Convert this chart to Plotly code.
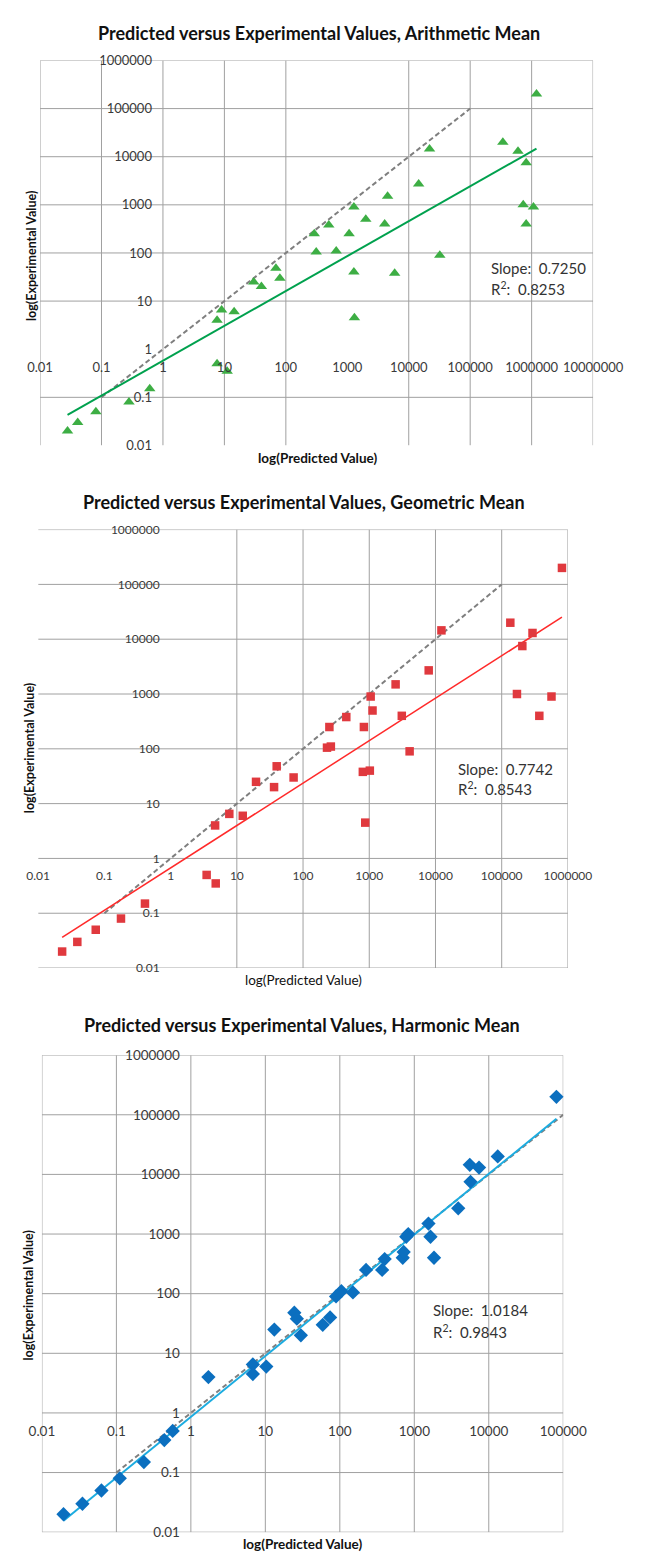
import plotly.graph_objects as go
import numpy as np

W, H = 653, 1559

# ---------------- data ----------------
arith_pred = [0.028, 0.041, 0.081, 0.28, 0.61, 7.6, 11.1, 7.6, 9.0, 14.4, 30, 40, 69, 80,
              290, 312, 500, 660, 1070, 1280, 1280, 1306, 2000, 4060, 4530, 5900, 14500,
              21800, 32000, 340000, 600000, 730000, 815000, 815000, 1070000, 1200000]
arith_exp = [0.02, 0.03, 0.05, 0.08, 0.15, 0.5, 0.35, 4, 6.5, 6, 25, 20, 48, 30,
             250, 105, 380, 110, 250, 900, 40, 4.5, 500, 400, 1500, 38, 2700,
             14500, 90, 20000, 13000, 1000, 7500, 400, 900, 200000]

geo_pred = [0.023, 0.039, 0.074, 0.178, 0.41, 3.5, 4.8, 4.7, 7.7, 12.3, 19.5, 36.5, 40, 72,
            230, 263, 250, 830, 450, 1050, 1120, 3100, 800, 1020, 870, 4070, 2500, 7900,
            12300, 135000, 292000, 205000, 170000, 565000, 370000, 813000]
geo_exp = [0.02, 0.03, 0.05, 0.08, 0.15, 0.5, 0.35, 4, 6.5, 6, 25, 20, 48, 30,
           105, 110, 250, 250, 380, 900, 500, 400, 38, 40, 4.5, 90, 1500, 2700,
           14500, 20000, 13000, 7500, 1000, 900, 400, 200000]

harm_pred = [0.0195, 0.035, 0.063, 0.111, 0.234, 0.57, 0.44, 1.72, 6.8, 10.3, 6.8, 13.2, 30,
             24.5, 59, 26.5, 74, 89, 105, 150, 225, 370, 400, 700, 720, 830, 780, 1650,
             1840, 1550, 3890, 5560, 7400, 5690, 13200, 81000]
harm_exp = [0.02, 0.03, 0.05, 0.08, 0.15, 0.5, 0.35, 4, 6.5, 6, 4.5, 25, 20, 48, 30, 38,
            40, 90, 110, 105, 250, 250, 380, 400, 500, 1000, 900, 900, 400, 1500, 2700,
            14500, 13000, 7500, 20000, 200000]

titles = ["Predicted versus Experimental Values, Arithmetic Mean",
          "Predicted versus Experimental Values, Geometric Mean",
          "Predicted versus Experimental Values, Harmonic Mean"]
slopes = [0.7250, 0.7742, 1.0184]
r2_values = [0.8253, 0.8543, 0.9843]
log_intercepts = [-0.24, -0.174, -0.065]
identity_span = [0.1, 100000]

x_tick_vals = [[0.01, 0.1, 1, 10, 100, 1000, 10000, 100000, 1000000, 10000000],
               [0.01, 0.1, 1, 10, 100, 1000, 10000, 100000, 1000000],
               [0.01, 0.1, 1, 10, 100, 1000, 10000, 100000]]
x_tick_text = [["0.01", "0.1", "1", "10", "100", "1000", "10000", "100000", "1000000", "10000000"],
               ["0.01", "0.1", "1", "10", "100", "1000", "10000", "100000", "1000000"],
               ["0.01", "0.1", "1", "10", "100", "1000", "10000", "100000"]]
y_tick_vals = [0.01, 0.1, 1, 10, 100, 1000, 10000, 100000, 1000000]
y_tick_text = ["0.01", "0.1", "1", "10", "100", "1000", "10000", "100000", "1000000"]

grid_x = [[0.01, 0.1, 1, 10, 100, 10000, 100000, 1000000, 10000000],
          [10, 100, 1000, 10000, 100000, 1000000],
          [0.01, 0.1, 1, 10, 100, 1000, 10000, 100000]]
grid_y = [[0.1, 10, 100, 1000, 10000, 100000, 1000000],
          [0.01, 0.1, 1, 10, 100, 1000, 10000, 100000, 1000000],
          [0.01, 0.1, 1, 10, 100, 1000, 10000, 100000, 1000000]]

# ---------------- style / layout ----------------
boxes = [dict(x0=29, x1=622, y0=53, y1=442, xr=[-2, 7], yr=[-2, 6]),
         dict(x0=27, x1=595, y0=527, y1=970, xr=[-2, 6], yr=[-2, 6]),
         dict(x0=31, x1=590, y0=1058, y1=1540, xr=[-2, 5], yr=[-2, 6])]
title_pos = [(328, 25), (312, 499), (310, 1028)]
xtitle_pos = [(326, 455), (311, 982), (310, 1552)]
xtitle_bold = [True, False, True]
ytitle_pos = [(20, 251), (17, 748), (17, 1301)]
slope_pos = [(510, 263, 283), (475, 769, 789), (448, 1316, 1337)]
tick_sizes = [13, 12, 13.5]

marker_symbols = ["triangle-up", "square", "diamond"]
marker_colors = ["#3DAE44", "#E0393E", "#0B6FBF"]
marker_sizes = [10, 8.5, 11]
trend_colors = ["#00A14E", "#FF2A2A", "#1CACE0"]
trend_widths = [2, 1.5, 2]

FONT = "Lato"
GRID = "#A0A0A0"

pairs = [(arith_pred, arith_exp), (geo_pred, geo_exp), (harm_pred, harm_exp)]

fig = go.Figure()
annotations = []
layout = {}


def px_x(p):
    return p / W


def px_y(p):
    return 1 - p / H


for i in range(3):
    b = boxes[i]
    xa = "x" if i == 0 else f"x{i+1}"
    ya = "y" if i == 0 else f"y{i+1}"
    xkey = "xaxis" if i == 0 else f"xaxis{i+1}"
    ykey = "yaxis" if i == 0 else f"yaxis{i+1}"
    xd = [px_x(b["x0"]), px_x(b["x1"])]
    yd = [px_y(b["y1"]), px_y(b["y0"])]
    xr, yr = b["xr"], b["yr"]
    # positions where axes cross (value 1 => log 0)
    xpos_of_yaxis = xd[0] + (0 - xr[0]) / (xr[1] - xr[0]) * (xd[1] - xd[0])
    ypos_of_xaxis = yd[0] + (0 - yr[0]) / (yr[1] - yr[0]) * (yd[1] - yd[0])

    tf = dict(family=FONT, size=tick_sizes[i], color="#3A3A3A")
    layout[xkey] = dict(type="log", range=xr, domain=xd, anchor="free", position=ypos_of_xaxis,
                        showgrid=False, zeroline=False, showline=False, ticks="",
                        tickmode="array", tickvals=x_tick_vals[i], ticktext=x_tick_text[i],
                        tickfont=tf, ticklabelstandoff=9, fixedrange=True)
    layout[ykey] = dict(type="log", range=yr, domain=yd, anchor="free", position=xpos_of_yaxis,
                        showgrid=False, zeroline=False, showline=False, ticks="",
                        tickmode="array", tickvals=y_tick_vals, ticktext=y_tick_text,
                        tickfont=tf, ticklabelstandoff=11, fixedrange=True)

    ylo, yhi = 10 ** yr[0], 10 ** yr[1]
    xlo, xhi = 10 ** xr[0], 10 ** xr[1]
    gx, gy = [], []
    for v in grid_x[i]:
        gx += [v, v, None]
        gy += [ylo, yhi, None]
    for v in grid_y[i]:
        gx += [xlo, xhi, None]
        gy += [v, v, None]
    fig.add_trace(go.Scatter(x=gx, y=gy, mode="lines", line=dict(color=GRID, width=1),
                             xaxis=xa, yaxis=ya, hoverinfo="skip", showlegend=False))

    # 1:1 reference
    fig.add_trace(go.Scatter(x=identity_span, y=identity_span, mode="lines",
                             line=dict(color="#7F7F7F", width=2, dash="5px,3px"),
                             xaxis=xa, yaxis=ya, showlegend=False, hoverinfo="skip"))

    pred, exp_ = pairs[i]
    # power trendline from reported slope and intercept
    tx = np.array([min(pred), max(pred)])
    ty = 10 ** log_intercepts[i] * tx ** slopes[i]
    fig.add_trace(go.Scatter(x=tx, y=ty, mode="lines",
                             line=dict(color=trend_colors[i], width=trend_widths[i]),
                             xaxis=xa, yaxis=ya, showlegend=False, hoverinfo="skip"))

    fig.add_trace(go.Scatter(x=pred, y=exp_, mode="markers",
                             marker=dict(symbol=marker_symbols[i], color=marker_colors[i],
                                         size=marker_sizes[i], line=dict(width=0)),
                             xaxis=xa, yaxis=ya, showlegend=False, cliponaxis=False))

    # texts
    tx_, ty_ = title_pos[i]
    annotations.append(dict(text=f"<b>{titles[i]}</b>", x=px_x(tx_), y=px_y(ty_),
                            xref="paper", yref="paper", xanchor="center", yanchor="middle",
                            showarrow=False, font=dict(family=FONT, size=18, color="#111")))
    xx, xy = xtitle_pos[i]
    t = "log(Predicted Value)"
    annotations.append(dict(text=f"<b>{t}</b>" if xtitle_bold[i] else t,
                            x=px_x(xx), y=px_y(xy), xref="paper", yref="paper",
                            xanchor="center", yanchor="middle", showarrow=False,
                            font=dict(family=FONT, size=13.5, color="#111")))
    yx, yy = ytitle_pos[i]
    annotations.append(dict(text="<b>log(Experimental Value)</b>", x=px_x(yx), y=px_y(yy),
                            xref="paper", yref="paper", xanchor="center", yanchor="middle",
                            textangle=-90, showarrow=False,
                            font=dict(family=FONT, size=12.5, color="#111")))
    sx, sy1, sy2 = slope_pos[i]
    annotations.append(dict(text=f"Slope:  {slopes[i]:.4f}", x=px_x(sx), y=px_y(sy1),
                            xref="paper", yref="paper", xanchor="left", yanchor="middle",
                            showarrow=False, font=dict(family=FONT, size=15, color="#333")))
    annotations.append(dict(text=f"R<sup>2</sup>:  {r2_values[i]:.4f}", x=px_x(sx), y=px_y(sy2),
                            xref="paper", yref="paper", xanchor="left", yanchor="middle",
                            showarrow=False, font=dict(family=FONT, size=15, color="#333")))

fig.update_layout(width=W, height=H, margin=dict(l=0, r=0, t=0, b=0),
                  plot_bgcolor="white", paper_bgcolor="white", showlegend=False,
                  annotations=annotations, **layout)

fig.write_html("out.html")
